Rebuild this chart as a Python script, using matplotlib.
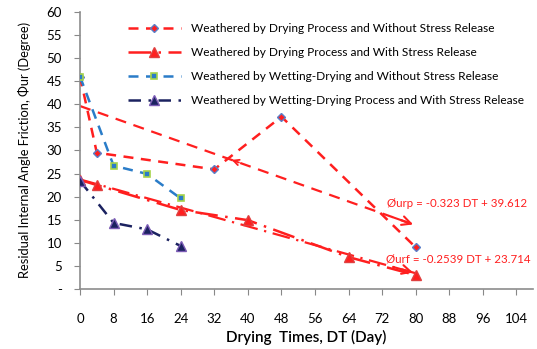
import numpy as np
import matplotlib
matplotlib.use("Agg")
from matplotlib import pyplot as plt

plt.rcParams['font.family'] = ['Lato', 'DejaVu Sans']

# series data (drying time in days, residual friction angle in degrees)
dry_nosr_x = [0, 4, 32, 48, 80]
dry_nosr_y = [46, 29.5, 25.9, 37.3, 9.0]

dry_sr_x = [0, 4, 24, 40, 64, 80]
dry_sr_y = [23.6, 22.5, 17.1, 14.9, 6.9, 3.0]

wd_nosr_x = [0, 8, 16, 24]
wd_nosr_y = [46, 26.7, 24.9, 19.6]

wd_sr_x = [0, 8, 16, 24]
wd_sr_y = [23.4, 14.3, 12.9, 9.3]

# linear trend coefficients shown on chart
trend_p = (-0.323, 39.612)
trend_f = (-0.2539, 23.714)

labels = [
    "Weathered by Drying Process and Without Stress Release",
    "Weathered by Drying Process and With Stress Release",
    "Weathered by Wetting-Drying and Without Stress Release",
    "Weathered by Wetting-Drying Process and With Stress Release",
]

x_ticks = list(range(0, 105, 8))
y_ticks = list(range(0, 61, 5))
y_ticklabels = ["-"] + [str(v) for v in y_ticks[1:]]

red = "#FF1F1F"
blue = "#2A7CC8"
navy = "#1B2260"

fig = plt.figure(figsize=(5.37, 3.49), dpi=100)
ax = fig.add_axes([0.149, 0.172, 0.844, 0.794])

# trend lines
tx = np.array([0, 80])
ax.plot(tx, trend_p[0] * tx + trend_p[1], color=red, lw=1.6, ls=(0, (5, 3.5)), zorder=2)
ax.plot(tx, trend_f[0] * tx + trend_f[1], color=red, lw=1.6, ls=(0, (8, 3, 1, 3)), zorder=2)
for a, b in (trend_p, trend_f):
    ax.annotate("", xy=(80, a * 80 + b), xytext=(74, a * 74 + b),
                arrowprops=dict(arrowstyle="->", color=red, lw=1.5, mutation_scale=16))
xc = 35.5
ax.annotate("", xy=(xc, trend_p[0] * xc + trend_p[1]), xytext=(xc + 3, trend_p[0] * (xc + 3) + trend_p[1]),
            arrowprops=dict(arrowstyle="->", color=red, lw=1.3, mutation_scale=10))

ax.plot(dry_nosr_x, dry_nosr_y, color=red, lw=1.8, ls=(0, (4, 3)), marker="D", ms=4.5,
        mfc=red, mec="#5B7FC8", mew=1.0, label=labels[0], zorder=3)
ax.plot(dry_sr_x, dry_sr_y, color=red, lw=1.8, ls=(0, (9, 3, 1, 3)), marker="^", ms=6.5,
        mfc=red, mec="#E04040", label=labels[1], zorder=3)
ax.plot(wd_nosr_x, wd_nosr_y, color=blue, lw=1.8, ls=(0, (4, 3)), marker="s", ms=5,
        mfc=blue, mec="#A6D34A", mew=1.2, label=labels[2], zorder=4)
ax.plot(wd_sr_x, wd_sr_y, color=navy, lw=1.8, ls=(0, (5, 3, 1, 3)), marker="^", ms=6.5,
        mfc=navy, mec="#7B5BB5", mew=1.0, label=labels[3], zorder=4)

ax.text(73.2, 18.6, "Øurp = -0.323 DT + 39.612", color=red, fontsize=8.3, va="center")
ax.text(72.8, 6.5, "Øurf = -0.2539 DT + 23.714", color=red, fontsize=8.3, va="center")

ax.set_xlim(0, 108)
ax.set_ylim(0, 60)
ax.set_xticks(x_ticks)
ax.set_yticks(y_ticks)
ax.set_yticklabels(y_ticklabels)
ax.tick_params(axis="x", direction="out", length=4, color="#888888", pad=13, labelsize=9.5)
ax.tick_params(axis="y", direction="out", length=4, color="#888888", pad=9, labelsize=9.5)
for s in ("top", "right"):
    ax.spines[s].set_visible(False)
for s in ("left", "bottom"):
    ax.spines[s].set_color("#8C8C8C")
    ax.spines[s].set_linewidth(1.2)

ax.set_xlabel("Drying  Times, DT (Day)", fontsize=11, fontweight="semibold", labelpad=4)
ax.set_ylabel("Residual Internal Angle Friction, Φur (Degree)", fontsize=9.3, labelpad=11)

ax.legend(loc="upper left", bbox_to_anchor=(0.105, 0.96), frameon=False, fontsize=8.6,
          handlelength=4.5, handletextpad=0.8, labelspacing=1.1, borderaxespad=0,
          borderpad=0)

fig.savefig("out.png", dpi=100)
